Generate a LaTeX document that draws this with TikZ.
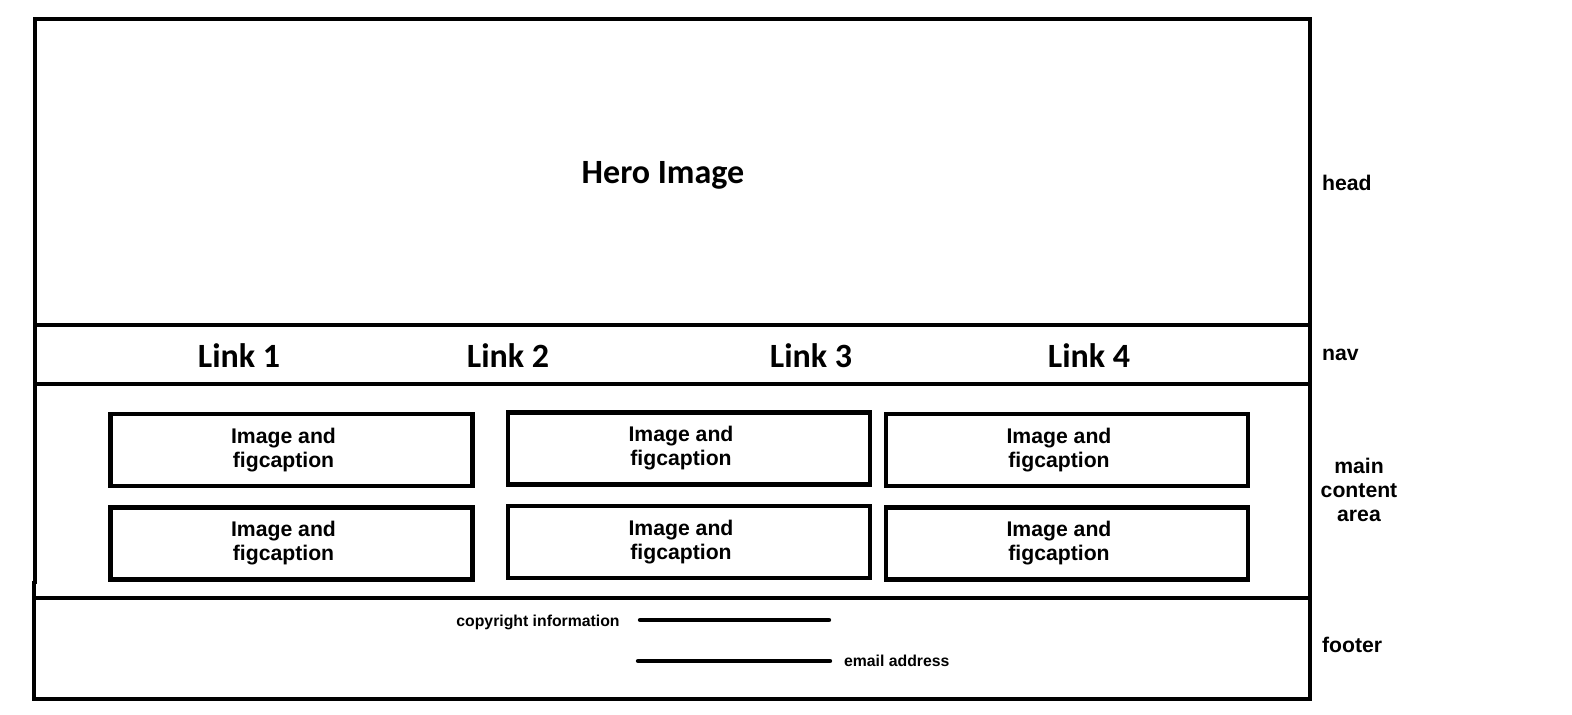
\documentclass[tikz,border=0pt]{standalone}
\usepackage{fontspec}
\setmainfont{Liberation Sans}
\newfontfamily\calibfont{Carlito}

\tikzset{
	frame/.style={line width=2.2pt},
	cellbox/.style={draw, line width=2.2pt, minimum width=181pt, minimum height=36pt, inner sep=0pt},
	captext/.style={align=center, xshift=-4pt, font=\bfseries\fontsize{10.6}{12}\selectfont},
	linktext/.style={anchor=base, font=\calibfont\bfseries\fontsize{17}{20}\selectfont},
	sidetext/.style={font=\bfseries\fontsize{10.6}{12}\selectfont},
	smalltext/.style={font=\bfseries\fontsize{7.9}{9}\selectfont},
	footline/.style={line width=2.2pt, line cap=round}
}

\begin{document}
\begin{tikzpicture}[x=0.5pt,y=-0.5pt]
	\useasboundingbox (0,0) rectangle (1572,714);
	\draw[frame] (35,584) -- (35,19) -- (1310,19) -- (1310,584);
	\draw[frame] (35,325) -- (1310,325);
	\draw[frame] (35,384) -- (1310,384);
	\draw[frame] (34,581) -- (34,699) -- (1310,699) -- (1310,581);
	\draw[frame] (34,598) -- (1310,598);
	\node (hero) [linktext] at (663,183) {Hero Image};
	\node (link1) [linktext] at (239,367) {Link 1};
	\node (link2) [linktext] at (508,367) {Link 2};
	\node (link3) [linktext] at (811,367) {Link 3};
	\node (link4) [linktext] at (1089,367) {Link 4};
	\node (img11) [cellbox, label={[captext]center:Image and\\figcaption}] at (291.5,450) {};
	\node (img12) [cellbox, label={[captext]center:Image and\\figcaption}] at (689,448.5) {};
	\node (img13) [cellbox, label={[captext]center:Image and\\figcaption}] at (1067,450) {};
	\node (img21) [cellbox, label={[captext]center:Image and\\figcaption}] at (291.5,543.5) {};
	\node (img22) [cellbox, label={[captext]center:Image and\\figcaption}] at (689,542) {};
	\node (img23) [cellbox, label={[captext]center:Image and\\figcaption}] at (1067,543.5) {};
	\node (copy) [smalltext, anchor=base] at (538,626) {copyright information};
	\node (mail) [smalltext, anchor=base west] at (837,666) {email address};
	\coordinate (copyA) at (640,620);
	\coordinate (copyB) at (829,620);
	\coordinate (mailA) at (638,661);
	\coordinate (mailB) at (830,661);
	\draw[footline] (copyA) -- (copyB);
	\draw[footline] (mailA) -- (mailB);
	\node (head) [sidetext, anchor=base west] at (1315,190) {head};
	\node (nav) [sidetext, anchor=base west] at (1315,360) {nav};
	\node (main) [sidetext, align=center] at (1359,490) {main\\content\\area};
	\node (foot) [sidetext, anchor=base west] at (1315,652) {footer};
\end{tikzpicture}
\end{document}
